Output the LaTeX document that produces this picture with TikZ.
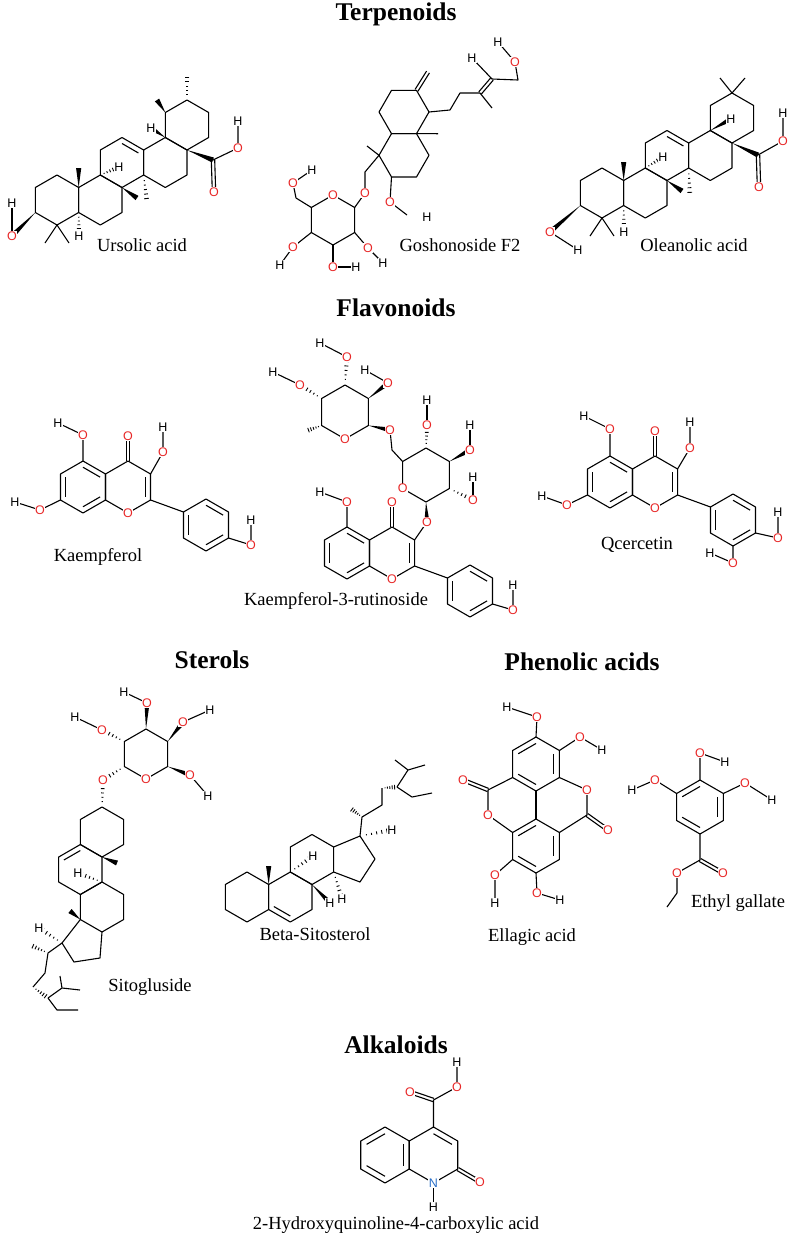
\documentclass[tikz,border=0pt]{standalone}
\usepackage{fontspec}
\setmainfont{Liberation Serif}
\setsansfont{Liberation Sans}
\usetikzlibrary{calc}
\definecolor{oxred}{RGB}{232,40,40}
\definecolor{nblue}{RGB}{40,110,200}
\tikzset{
  bond/.style={line width=1.1pt, line join=round},
  ao/.style={text=oxred, font=\sffamily\fontsize{12.5}{12.5}\selectfont, fill=white, inner sep=0.5pt},
  ah/.style={text=black, font=\sffamily\fontsize{12.5}{12.5}\selectfont, fill=white, inner sep=0.5pt},
  an/.style={ao, text=nblue},
  ttl/.style={font=\bfseries\fontsize{25.5}{28}\selectfont},
  molname/.style={font=\fontsize{18.5}{20}\selectfont},
}
% ring of six, vertices name-0 .. name-5
\newcommand{\hexring}[5]{%
  \foreach \k in {0,...,5}
    \coordinate (#1-\k) at ({#2+#4*cos(#5+60*\k)},{#3+#4*sin(#5+60*\k)});
  \coordinate (#1) at (#2,#3);
  \draw[bond] (#1-0)--(#1-1)--(#1-2)--(#1-3)--(#1-4)--(#1-5)--cycle;}
\newcommand{\inner}[3]{\draw[bond] ($(#3)!.76!(#1)$) -- ($(#3)!.76!(#2)$);}
\newcommand{\dbond}[2]{%
  \draw[bond] ($(#1)!1.7pt!90:(#2)$) -- ($(#2)!1.7pt!-90:(#1)$);
  \draw[bond] ($(#1)!1.7pt!-90:(#2)$) -- ($(#2)!1.7pt!90:(#1)$);}
\newcommand{\wdg}[2]{\fill ($(#1)$) -- ($(#2)!2.6pt!90:(#1)$) -- ($(#2)!2.6pt!-90:(#1)$) -- cycle;}
\newcommand{\hsh}[2]{\foreach \t in {0.2,0.36,...,1.0}
  {\draw[line width=.9pt] ($(#1)!\t!(#2)!{\t*2.8pt}!90:(#1)$) -- ($(#1)!\t!(#2)!{\t*2.8pt}!-90:(#1)$);}}
% flavone core: A ring, C ring, phenyl
\newcommand{\flavone}[3]{%
  \hexring{#1A}{#2}{#3}{26}{-90}
  \hexring{#1C}{#2+45.03}{#3}{26}{-90}
  \hexring{#1P}{#2+123}{#3+38}{26}{-90}
  \inner{#1A-5}{#1A-4}{#1A} \inner{#1A-0}{#1A-1}{#1A} \inner{#1A-2}{#1A-3}{#1A}
  \inner{#1C-1}{#1C-2}{#1C}
  \inner{#1P-0}{#1P-1}{#1P} \inner{#1P-2}{#1P-3}{#1P} \inner{#1P-4}{#1P-5}{#1P}
  \draw[bond] (#1C-2) -- (#1P-5);
  \coordinate (#1CO) at ($(#1C-0)+(0,-25)$);
  \dbond{#1C-0}{#1CO}
  \node[ao] at (#1C-3) {O};
  \node[ao] at (#1CO) {O};}
% five ring skeleton of the triterpenes
\newcommand{\pentacyc}[3]{%
  \hexring{#1A}{#2}{#3}{25}{-90}
  \hexring{#1B}{#2+43.3}{#3}{25}{-90}
  \hexring{#1C}{#2+65}{#3-37.5}{25}{-90}
  \hexring{#1D}{#2+108.3}{#3-37.5}{25}{-90}
  \hexring{#1E}{#2+130}{#3-75}{25}{-90}
  \inner{#1C-0}{#1C-1}{#1C}}

\begin{document}
\begin{tikzpicture}[x=1pt,y=-1pt]
  \useasboundingbox[fill=white] (0,0) rectangle (792,1240);

  % titles
  \node[ttl] (terp) at (396,14) {Terpenoids};
  \node[ttl] (flav) at (396,308) {Flavonoids};
  \node[ttl] (ster) at (212,660) {Sterols};
  \node[ttl] (phen) at (582,662) {Phenolic acids};
  \node[ttl] (alka) at (396,1045) {Alkaloids};

  % Ursolic acid
  \pentacyc{u}{57}{200}
  \coordinate (uO1) at (12,236); \coordinate (uH1) at (12,203);
  \wdg{uA-4}{uO1}
  \draw[bond] (uO1) -- (uH1);
  \draw[bond] (45,243) -- (uA-3) -- (69,243);
  \coordinate (uH2) at (79,236); \hsh{uA-2}{uH2}
  \wdg{uA-1}{78.65,168}
  \wdg{uB-1}{137,198}
  \coordinate (uH3) at (119,167); \hsh{uC-4}{uH3}
  \hsh{uC-2}{147,203}
  \coordinate (uH4) at (151,128); \wdg{uD-0}{uH4}
  \coordinate (uC1) at (213,160); \wdg{uD-1}{uC1}
  \coordinate (uO2) at (214,192); \dbond{uC1}{uO2}
  \coordinate (uO3) at (238,148); \coordinate (uH5) at (238,121);
  \draw[bond] (uC1) -- (uO3) -- (uH5);
  \wdg{uE-5}{157,100}
  \hsh{uE-0}{187,73}
  \foreach \p in {uO1,uO2,uO3} \node[ao] at (\p) {O};
  \foreach \p in {uH1,uH2,uH3,uH4,uH5} \node[ah] at (\p) {H};
  \node[molname] (ursolic) at (142,245) {Ursolic acid};

  % Goshonoside F2
  \hexring{g1}{404}{112}{25}{0}
  \hexring{g2}{404}{155.3}{25}{0}
  \coordinate (gX) at (428,72); \dbond{g1-5}{gX}
  \draw[bond] (g1-1) -- (438,133.7);
  \coordinate (gc1) at (450,110); \coordinate (gc2) at (460,93);
  \coordinate (gc3) at (480,93); \coordinate (gc4) at (492,79);
  \coordinate (gc5) at (518,80);
  \draw[bond] (g1-0) -- (gc1) -- (gc2) -- (gc3);
  \dbond{gc3}{gc4}
  \draw[bond] (gc3) -- (492,108);
  \coordinate (gH1) at (472,58); \coordinate (gO1) at (515,62); \coordinate (gH2) at (498,42);
  \draw[bond] (gc4) -- (gH1) (gc4) -- (gc5) -- (gO1) -- (gH2);
  \draw[bond] (g2-3) -- (367,146);
  \coordinate (gO2) at (365,193);
  \draw[bond] (g2-3) -- (365,172) -- (gO2);
  \coordinate (gO3) at (390,202); \coordinate (gH3) at (427,217);
  \draw[bond] (g2-2) -- (gO3) -- (407,215);
  \hexring{gs}{333}{220}{25}{-90}
  \draw[bond] (gs-1) -- (gO2);
  \coordinate (gO4) at (293,183); \coordinate (gH4) at (312,170);
  \draw[bond] (gs-5) -- (296,198) -- (gO4) -- (gH4);
  \coordinate (gO5) at (293,247); \coordinate (gH5) at (280,265);
  \draw[bond] (gs-4) -- (gO5) -- (gH5);
  \coordinate (gO6) at (333,267); \coordinate (gH6) at (356,267);
  \draw[bond] (gs-3) -- (gO6) -- (gH6);
  \coordinate (gO7) at (368,248); \coordinate (gH7) at (383,263);
  \draw[bond] (gs-2) -- (gO7) -- (gH7);
  \node[ao] at (gs-0) {O};
  \foreach \p in {gO1,gO2,gO3,gO4,gO5,gO6,gO7} \node[ao] at (\p) {O};
  \foreach \p in {gH1,gH2,gH3,gH4,gH5,gH6,gH7} \node[ah] at (\p) {H};
  \node[molname] (goshon) at (460,245) {Goshonoside F2};

  % Oleanolic acid
  \pentacyc{o}{602}{193}
  \coordinate (oO1) at (550,232); \coordinate (oH1) at (578,250);
  \wdg{oA-4}{oO1}
  \draw[bond] (oO1) -- (oH1);
  \draw[bond] (590,236) -- (oA-3) -- (614,236);
  \coordinate (oH2) at (624,232); \hsh{oA-2}{oH2}
  \wdg{oA-1}{623.65,162}
  \wdg{oB-1}{682,191}
  \coordinate (oH3) at (663,157); \hsh{oC-4}{oH3}
  \hsh{oC-2}{690,197}
  \coordinate (oH4) at (731,119); \wdg{oD-0}{oH4}
  \coordinate (oC1) at (758,155); \wdg{oD-1}{oC1}
  \coordinate (oO2) at (759,187); \dbond{oC1}{oO2}
  \coordinate (oO3) at (783,141); \coordinate (oH5) at (783,113);
  \draw[bond] (oC1) -- (oO3) -- (oH5);
  \draw[bond] (720,78) -- (oE-0) -- (745,78);
  \foreach \p in {oO1,oO2,oO3} \node[ao] at (\p) {O};
  \foreach \p in {oH1,oH2,oH3,oH4,oH5} \node[ah] at (\p) {H};
  \node[molname] (oleanol) at (694,245) {Oleanolic acid};

  % Kaempferol
  \flavone{k}{83}{487}
  \coordinate (kO5) at (83,435); \coordinate (kH5) at (58,423);
  \coordinate (kO7) at (40,510); \coordinate (kH7) at (15,502);
  \coordinate (kO3) at (163,452); \coordinate (kH3) at (163,427);
  \coordinate (kO4) at (251,545); \coordinate (kH4) at (251,520);
  \draw[bond] (kA-0) -- (kO5) -- (kH5) (kA-4) -- (kO7) -- (kH7);
  \draw[bond] (kC-1) -- (kO3) -- (kH3) (kP-2) -- (kO4) -- (kH4);
  \foreach \p in {kO5,kO7,kO3,kO4} \node[ao] at (\p) {O};
  \foreach \p in {kH5,kH7,kH3,kH4} \node[ah] at (\p) {H};
  \node[molname] (kaemp) at (98,557) {Kaempferol};

  % Kaempferol-3-rutinoside
  \flavone{r}{347}{553}
  \coordinate (rO5) at (347,502); \coordinate (rH5) at (320,492);
  \coordinate (rO3) at (427,522);
  \coordinate (rO4) at (513,610); \coordinate (rH4) at (513,585);
  \draw[bond] (rA-0) -- (rO5) -- (rH5) (rC-1) -- (rO3) (rP-2) -- (rO4) -- (rH4);
  \hexring{gl}{426}{475}{27}{-90}
  \wdg{gl-3}{rO3}
  \coordinate (glO1) at (390,430);
  \draw[bond] (gl-5) -- (392,450) -- (glO1);
  \coordinate (glO2) at (427,425); \coordinate (glH2) at (427,400);
  \hsh{gl-0}{glO2} \draw[bond] (glO2) -- (glH2);
  \coordinate (glO3) at (470,450); \coordinate (glH3) at (470,425);
  \wdg{gl-1}{glO3} \draw[bond] (glO3) -- (glH3);
  \coordinate (glO4) at (473,500); \coordinate (glH4) at (473,477);
  \hsh{gl-2}{glO4} \draw[bond] (glO4) -- (glH4);
  \hexring{rh}{345}{412}{27}{-90}
  \wdg{rh-2}{glO1}
  \hsh{rh-4}{306,431}
  \coordinate (rhO1) at (300,385); \coordinate (rhH1) at (273,372);
  \hsh{rh-5}{rhO1} \draw[bond] (rhO1) -- (rhH1);
  \coordinate (rhO2) at (347,357); \coordinate (rhH2) at (320,343);
  \hsh{rh-0}{rhO2} \draw[bond] (rhO2) -- (rhH2);
  \coordinate (rhO3) at (388,383); \coordinate (rhH3) at (365,370);
  \wdg{rh-1}{rhO3} \draw[bond] (rhO3) -- (rhH3);
  \node[ao] at (gl-4) {O}; \node[ao] at (rh-3) {O};
  \foreach \p in {rO5,rO3,rO4,glO1,glO2,glO3,glO4,rhO1,rhO2,rhO3} \node[ao] at (\p) {O};
  \foreach \p in {rH5,rH4,glH2,glH3,glH4,rhH1,rhH2,rhH3} \node[ah] at (\p) {H};
  \node[molname] (rutin) at (336,601) {Kaempferol-3-rutinoside};

  % Quercetin
  \flavone{q}{610}{482}
  \coordinate (qO5) at (610,429); \coordinate (qH5) at (584,416);
  \coordinate (qO7) at (567,505); \coordinate (qH7) at (542,496);
  \coordinate (qO3) at (690,448); \coordinate (qH3) at (690,422);
  \coordinate (qO4) at (778,538); \coordinate (qH4) at (778,512);
  \coordinate (qO6) at (733,563); \coordinate (qH6) at (710,553);
  \draw[bond] (qA-0) -- (qO5) -- (qH5) (qA-4) -- (qO7) -- (qH7);
  \draw[bond] (qC-1) -- (qO3) -- (qH3) (qP-2) -- (qO4) -- (qH4);
  \draw[bond] (qP-3) -- (qO6) -- (qH6);
  \foreach \p in {qO5,qO7,qO3,qO4,qO6} \node[ao] at (\p) {O};
  \foreach \p in {qH5,qH7,qH3,qH4,qH6} \node[ah] at (\p) {H};
  \node[molname] (querc) at (637,545) {Qcercetin};

  % Sitogluside
  \hexring{sA}{102}{832}{25}{-90}
  \hexring{sB}{80.35}{869.5}{25}{-90}
  \hexring{sC}{102}{907}{25}{-90}
  \coordinate (s15) at (100,958); \coordinate (s16) at (74,962); \coordinate (s17) at (62,943);
  \draw[bond] (sC-3) -- (s15) -- (s16) -- (s17) -- (sC-4);
  \inner{sB-5}{sB-0}{sB}
  \wdg{sA-3}{117,863}
  \coordinate (sH1) at (78,873); \hsh{sC-0}{sH1}
  \wdg{sC-4}{70,911}
  \coordinate (sH2) at (39,928); \hsh{s17}{sH2}
  \coordinate (s20) at (48,953); \coordinate (s24) at (48,998); \coordinate (s25) at (62,988);
  \draw[bond] (s17) -- (s20) -- (45,973) -- (33,987);
  \hsh{s20}{30,945}
  \hsh{33,987}{s24}
  \draw[bond] (s24) -- (s25) -- (60,976) (s25) -- (80,990);
  \draw[bond] (s24) -- (57,1010) -- (78,1010);
  \hexring{sg}{146}{754}{25}{-90}
  \coordinate (sO1) at (103,780);
  \hsh{sg-4}{sO1} \hsh{sA-0}{sO1}
  \coordinate (sO2) at (190,775); \coordinate (sH3) at (208,796);
  \wdg{sg-2}{sO2} \draw[bond] (sO2) -- (sH3);
  \coordinate (sO3) at (183,722); \coordinate (sH4) at (210,710);
  \wdg{sg-1}{sO3} \draw[bond] (sO3) -- (sH4);
  \coordinate (sO4) at (147,703); \coordinate (sH5) at (124,692);
  \wdg{sg-0}{sO4} \draw[bond] (sO4) -- (sH5);
  \coordinate (sO5) at (102,730); \coordinate (sH6) at (75,717);
  \hsh{sg-5}{sO5} \draw[bond] (sO5) -- (sH6);
  \node[ao] at (sg-3) {O};
  \foreach \p in {sO1,sO2,sO3,sO4,sO5} \node[ao] at (\p) {O};
  \foreach \p in {sH1,sH2,sH3,sH4,sH5,sH6} \node[ah] at (\p) {H};
  \node[molname] (sitoglu) at (150,987) {Sitogluside};

  % Beta-Sitosterol
  \hexring{bA}{247}{897}{25}{-90}
  \hexring{bB}{290.3}{897}{25}{-90}
  \hexring{bC}{312}{859.5}{25}{-90}
  \coordinate (b15) at (360,882); \coordinate (b16) at (375,859); \coordinate (b17) at (360,836);
  \draw[bond] (bC-2) -- (b15) -- (b16) -- (b17) -- (bC-1);
  \inner{bB-3}{bB-4}{bB}
  \wdg{bA-1}{268.65,866}
  \coordinate (bH1) at (313,856); \hsh{bB-0}{bH1}
  \coordinate (bH2) at (330,903); \wdg{bB-1}{bH2}
  \coordinate (bH3) at (342,899); \hsh{bC-2}{bH3}
  \coordinate (bH4) at (392,830); \hsh{b17}{bH4}
  \coordinate (b20) at (362,817); \coordinate (b24) at (397,787); \coordinate (b25) at (408,770);
  \draw[bond] (b17) -- (b20) -- (382,805) -- (382,788);
  \hsh{b20}{350,808}
  \hsh{382,788}{b24}
  \draw[bond] (b24) -- (b25) -- (395,760) (b25) -- (425,765);
  \draw[bond] (b24) -- (412,797) -- (432,793);
  \foreach \p in {bH1,bH2,bH3,bH4} \node[ah] at (\p) {H};
  \node[molname] (sitost) at (315,934) {Beta-Sitosterol};

  % Ellagic acid
  \hexring{eU}{536}{764}{27}{-90}
  \hexring{eL}{536}{846}{27}{-90}
  \foreach \r in {eU,eL} {\inner{\r-5}{\r-0}{\r} \inner{\r-1}{\r-2}{\r} \inner{\r-3}{\r-4}{\r}}
  \draw[bond] (eU-3) -- (eL-0);
  \coordinate (ec1) at (488,790); \coordinate (eO1) at (463,780); \coordinate (eO2) at (488,815);
  \draw[bond] (eU-4) -- (ec1) -- (eO2) -- (eL-5);
  \dbond{ec1}{eO1}
  \coordinate (ec2) at (587,815); \coordinate (eO3) at (587,790); \coordinate (eO4) at (608,830);
  \draw[bond] (eU-2) -- (eO3) -- (ec2) -- (eL-1);
  \dbond{ec2}{eO4}
  \coordinate (eO5) at (537,717); \coordinate (eH1) at (507,707);
  \coordinate (eO6) at (580,737); \coordinate (eH2) at (602,750);
  \coordinate (eO7) at (495,875); \coordinate (eH3) at (495,903);
  \coordinate (eO8) at (537,893); \coordinate (eH4) at (560,900);
  \draw[bond] (eU-0) -- (eO5) -- (eH1) (eU-1) -- (eO6) -- (eH2);
  \draw[bond] (eL-4) -- (eO7) -- (eH3) (eL-3) -- (eO8) -- (eH4);
  \foreach \p in {eO1,eO2,eO3,eO4,eO5,eO6,eO7,eO8} \node[ao] at (\p) {O};
  \foreach \p in {eH1,eH2,eH3,eH4} \node[ah] at (\p) {H};
  \node[molname] (ellagic) at (532,937) {Ellagic acid};

  % Ethyl gallate
  \hexring{eg}{700}{807}{27}{-90}
  \inner{eg-5}{eg-0}{eg} \inner{eg-1}{eg-2}{eg} \inner{eg-3}{eg-4}{eg}
  \coordinate (egO1) at (700,753); \coordinate (egH1) at (725,762);
  \coordinate (egO2) at (655,780); \coordinate (egH2) at (632,790);
  \coordinate (egO3) at (745,783); \coordinate (egH3) at (772,800);
  \draw[bond] (eg-0) -- (egO1) -- (egH1) (eg-5) -- (egO2) -- (egH2) (eg-1) -- (egO3) -- (egH3);
  \coordinate (egc) at (700,860); \coordinate (egO4) at (723,873); \coordinate (egO5) at (677,873);
  \draw[bond] (eg-3) -- (egc) -- (egO5) -- (677,893) -- (667,907);
  \dbond{egc}{egO4}
  \foreach \p in {egO1,egO2,egO3,egO4,egO5} \node[ao] at (\p) {O};
  \foreach \p in {egH1,egH2,egH3} \node[ah] at (\p) {H};
  \node[molname] (gallate) at (738,903) {Ethyl gallate};

  % 2-Hydroxyquinoline-4-carboxylic acid
  \hexring{hL}{385}{1155}{28}{-90}
  \hexring{hR}{433.5}{1155}{28}{-90}
  \inner{hL-5}{hL-0}{hL} \inner{hL-1}{hL-2}{hL} \inner{hL-3}{hL-4}{hL}
  \inner{hR-0}{hR-1}{hR}
  \coordinate (hc) at (433.5,1100); \coordinate (hO1) at (410,1092);
  \coordinate (hO2) at (457,1087); \coordinate (hH1) at (457,1062);
  \coordinate (hO3) at (480,1182); \coordinate (hH2) at (433.5,1207);
  \draw[bond] (hR-0) -- (hc) -- (hO2) -- (hH1);
  \dbond{hc}{hO1}
  \dbond{hR-2}{hO3}
  \draw[bond] (hR-3) -- (hH2);
  \node[an] at (hR-3) {N};
  \foreach \p in {hO1,hO2,hO3} \node[ao] at (\p) {O};
  \foreach \p in {hH1,hH2} \node[ah] at (\p) {H};
  \node[molname] (quinol) at (396,1225) {2-Hydroxyquinoline-4-carboxylic acid};
\end{tikzpicture}
\end{document}
